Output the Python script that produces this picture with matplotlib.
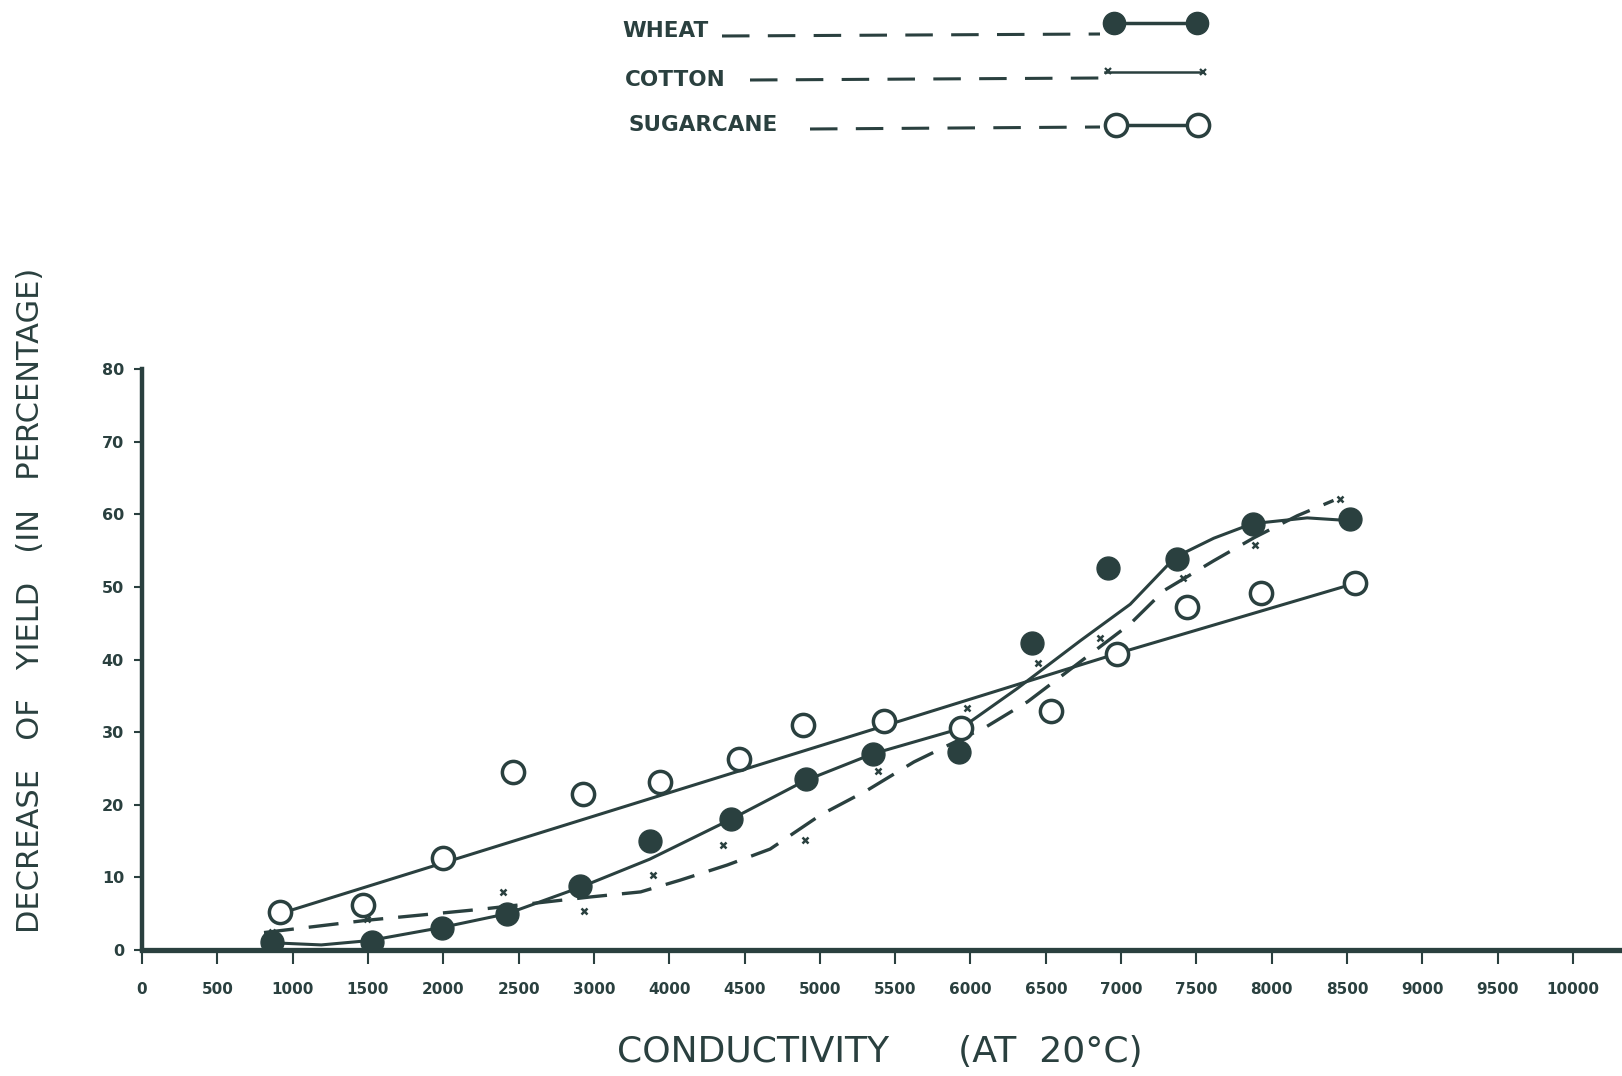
import numpy as np
import matplotlib
matplotlib.use("Agg")
import matplotlib.pyplot as plt

INK = "#2a403f"

# conductivity ticks as printed on the sheet (3500 is not marked)
tick_values = [0, 500, 1000, 1500, 2000, 2500, 3000, 4000, 4500, 5000, 5500,
               6000, 6500, 7000, 7500, 8000, 8500, 9000, 9500, 10000]
tick_labels = [str(v) for v in tick_values]
y_ticks = [0, 10, 20, 30, 40, 50, 60, 70, 80]

# observed decrease of yield (%)
wheat_x = [860, 1530, 1990, 2425, 2905, 3740, 4410, 4910, 5350, 5925, 6405,
           6915, 7370, 7875, 8520]
wheat_y = [1.1, 1.1, 3.0, 5.0, 8.8, 15.0, 18.0, 23.5, 27.0, 27.2, 42.3,
           52.6, 53.8, 58.7, 59.3]

cotton_x = [860, 1495, 2395, 2935, 3790, 4355, 4900, 5385, 5980, 6450, 6860,
            7410, 7890, 8455]
cotton_y = [2.5, 4.3, 8.0, 5.4, 10.3, 14.4, 15.2, 24.6, 33.3, 39.5, 42.9,
            51.2, 55.7, 62.1]

sugar_x = [915, 1470, 2000, 2460, 2925, 3880, 4465, 4890, 5425, 5940, 6535,
           6970, 7435, 7930, 8555]
sugar_y = [5.3, 6.2, 12.6, 24.5, 21.5, 23.2, 26.3, 31.0, 31.5, 30.6, 32.9,
           40.8, 47.2, 49.1, 50.5]

# hand drawn trend curves
wheat_fit_x = [860, 1190, 1510, 1990, 2425, 2905, 3740, 4410, 4900, 5350,
               5935, 6310, 6730, 7060, 7360, 7615, 7870, 8235, 8535]
wheat_fit_y = [1.0, 0.7, 1.3, 3.1, 5.0, 8.6, 12.5, 18.0, 23.3, 27.0,
               30.5, 36.0, 42.6, 47.6, 54.1, 56.7, 58.7, 59.5, 59.1]

cotton_fit_x = [810, 1495, 2245, 2975, 3620, 4070, 4385, 4670, 5005, 5315,
                5625, 6110, 6380, 7060, 7285, 7615, 7885, 8170, 8410]
cotton_fit_y = [2.4, 4.1, 5.6, 7.3, 8.0, 9.6, 11.7, 13.9, 18.6, 22.0,
                25.9, 30.8, 34.2, 44.9, 49.5, 53.6, 56.8, 59.8, 61.9]

sugar_fit_x = [915, 6970, 8555]
sugar_fit_y = [5.0, 40.8, 50.5]

# the printed axis is evenly spaced per label, not per unit
scale_vals = [-10000] + tick_values + [20000]
scale_pos = [-20] + list(range(len(tick_values))) + [39]


def forward(x):
    return np.interp(x, scale_vals, scale_pos)


def inverse(p):
    return np.interp(p, scale_pos, scale_vals)


plt.rcParams["font.family"] = ["DejaVu Sans"]

fig = plt.figure(figsize=(16.22, 10.76), dpi=100)
W, H = 1622, 1076
ax = fig.add_axes([142 / W, 1 - 950 / H, (W - 142) / W, (950 - 369) / H])

ax.set_xscale("function", functions=(forward, inverse))
ax.set_xlim(0, 10325)
ax.set_ylim(0, 80)

ax.plot(sugar_fit_x, sugar_fit_y, color=INK, lw=2.2, zorder=2)
ax.plot(wheat_fit_x, wheat_fit_y, color=INK, lw=2.2, zorder=2)
ax.plot(cotton_fit_x, cotton_fit_y, color=INK, lw=2.4, ls=(0, (9, 4.5)),
        zorder=2)

ax.plot(sugar_x, sugar_y, ls="none", marker="o", ms=16, mfc="white",
        mec=INK, mew=2.5, zorder=3)
ax.plot(wheat_x, wheat_y, ls="none", marker="o", ms=16.5, mfc=INK,
        mec=INK, zorder=4)
ax.plot(cotton_x, cotton_y, ls="none", marker="x", ms=5, mec=INK,
        mew=1.8, zorder=4)

for side in ["top", "right"]:
    ax.spines[side].set_visible(False)
ax.spines["left"].set_linewidth(3.2)
ax.spines["bottom"].set_linewidth(3.8)
ax.spines["left"].set_color(INK)
ax.spines["bottom"].set_color(INK)

ax.set_xticks(tick_values)
ax.set_xticklabels(tick_labels)
ax.set_yticks(y_ticks)
ax.tick_params(axis="x", length=10, width=1.5, color=INK, pad=13,
               labelsize=11, labelcolor=INK)
ax.tick_params(axis="y", length=6, width=1.5, color=INK, pad=7,
               labelsize=11.5, labelcolor=INK)
for lab in ax.get_xticklabels() + ax.get_yticklabels():
    lab.set_fontweight("bold")
ax.minorticks_off()

fig.text(31 / W, 1 - 600 / H, "DECREASE   OF   YIELD   (IN   PERCENTAGE)",
         rotation=90, ha="center", va="center", fontsize=22, color=INK)
fig.text(880 / W, 1 - 1052 / H, "CONDUCTIVITY      (AT  20°C)",
         ha="center", va="center", fontsize=26, color=INK)

# key at the top of the sheet
key = fig.add_axes([0, 0, 1, 1], zorder=-1)
key.set_xlim(0, W)
key.set_ylim(H, 0)
key.axis("off")

key.text(622, 31, "WHEAT", fontsize=15.5, fontweight="bold", color=INK,
         va="center")
key.plot([722, 1100], [36, 34], color=INK, lw=2.2, ls=(0, (9, 6)))
key.plot([1114, 1197], [23, 23], color=INK, lw=2.5, marker="o", ms=16,
         mfc=INK, mec=INK)

key.text(625, 80, "COTTON", fontsize=15.5, fontweight="bold", color=INK,
         va="center")
key.plot([750, 1100], [80, 78], color=INK, lw=2.2, ls=(0, (9, 6)))
key.plot([1105, 1203], [72, 72], color=INK, lw=1.8)
key.plot([1108, 1203], [71, 72], ls="none", marker="x", ms=5, mec=INK,
         mew=1.6)

key.text(629, 125, "SUGARCANE", fontsize=15.5, fontweight="bold", color=INK,
         va="center")
key.plot([810, 1100], [129, 127], color=INK, lw=2.2, ls=(0, (9, 6)))
key.plot([1116, 1198], [125, 125], color=INK, lw=2.5, marker="o", ms=16,
         mfc="white", mec=INK, mew=2.5)

fig.savefig("out.png", dpi=100, facecolor="white")
